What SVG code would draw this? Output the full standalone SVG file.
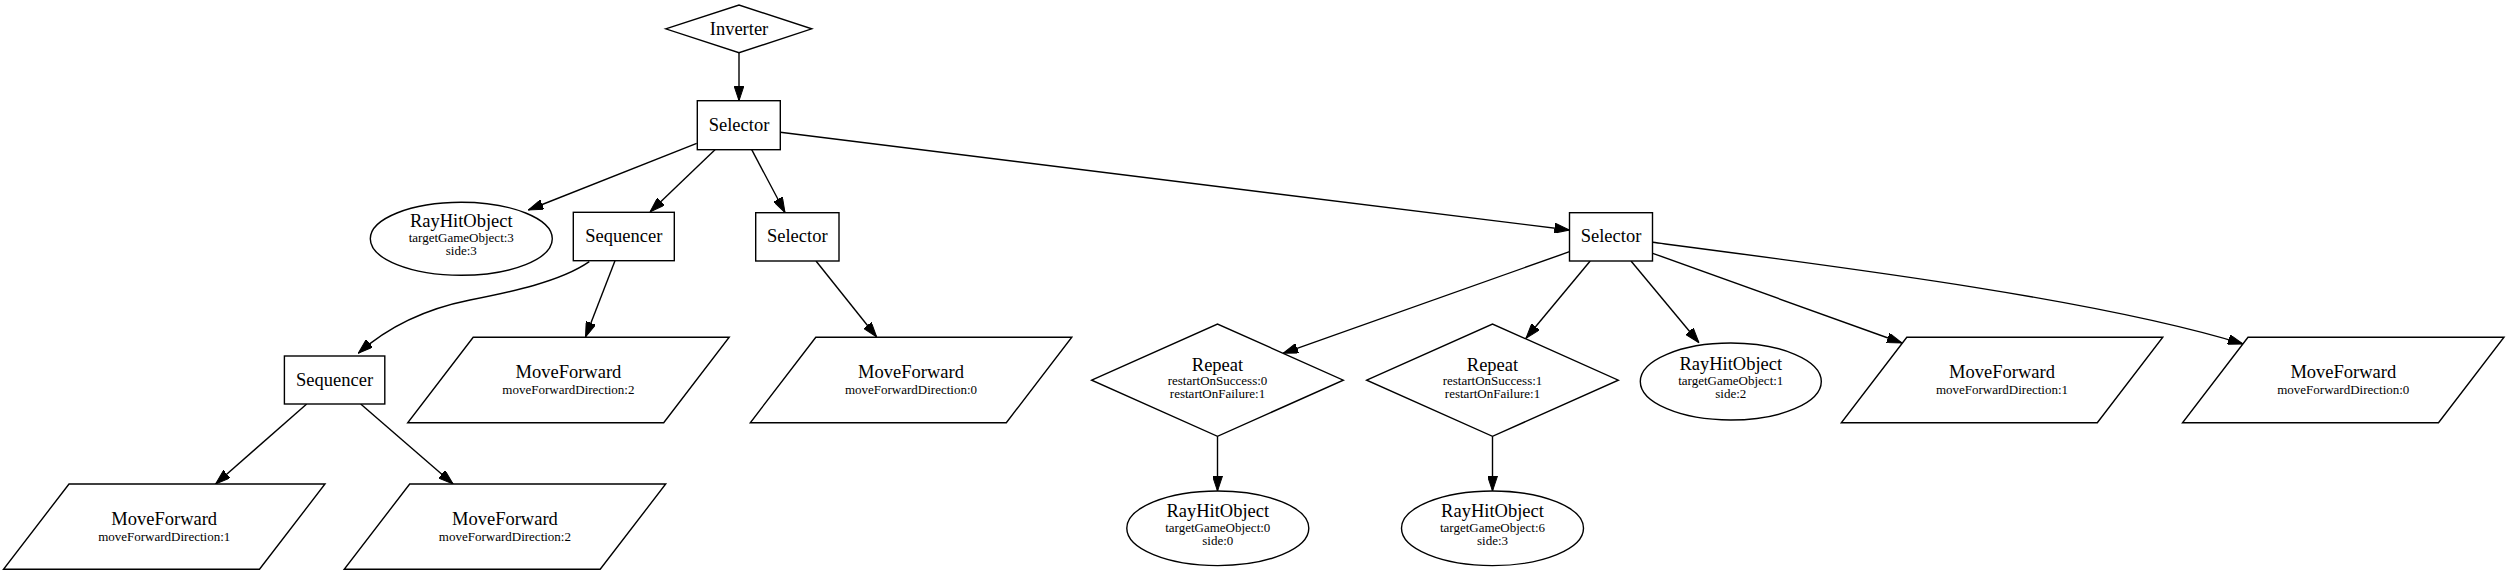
<svg xmlns="http://www.w3.org/2000/svg" width="2509" height="575" viewBox="0 0 2509 575">
<style>
.n{fill:#fff;stroke:#000;stroke-width:1.4}
.e{fill:none;stroke:#000;stroke-width:1.4}
text{font-family:"Liberation Serif","Times New Roman",serif;fill:#000;text-anchor:middle}
.m{font-size:18.5px}
.s{font-size:13px}
</style>
<defs>
<marker id="ah" markerUnits="userSpaceOnUse" markerWidth="15" markerHeight="10" viewBox="0 0 15 10" refX="15" refY="5" orient="auto">
<path d="M0,0 L15,5 L0,10 z" fill="#000" stroke="#000" stroke-width="1"/>
</marker>
</defs>
<rect width="2509" height="575" fill="#fff"/>
<g id="edges" marker-end="url(#ah)">
<path class="e" d="M739,52.7 L739,100.7" marker-end="url(#ah)"/>
<path class="e" d="M696.7,143.3 L528.3,210" marker-end="url(#ah)"/>
<path class="e" d="M715,149.7 L650,212" marker-end="url(#ah)"/>
<path class="e" d="M751.7,149.7 L785,212.5" marker-end="url(#ah)"/>
<path class="e" d="M780.3,132.3 L1569.5,230" marker-end="url(#ah)"/>
<path class="e" d="M589.3,261.7 C560,282 510,292 470,300 C430,308 390,325 358.3,353.3" marker-end="url(#ah)"/>
<path class="e" d="M615,260.7 L585.5,337" marker-end="url(#ah)"/>
<path class="e" d="M306.7,404 L215.6,484" marker-end="url(#ah)"/>
<path class="e" d="M360.7,404 L453.1,484" marker-end="url(#ah)"/>
<path class="e" d="M816,261 L876.7,337" marker-end="url(#ah)"/>
<path class="e" d="M1569.5,251.7 L1283,353.3" marker-end="url(#ah)"/>
<path class="e" d="M1590.2,261 L1526,338.3" marker-end="url(#ah)"/>
<path class="e" d="M1631,261 L1699,342.7" marker-end="url(#ah)"/>
<path class="e" d="M1652.7,253.3 L1902,343" marker-end="url(#ah)"/>
<path class="e" d="M1652.7,242.3 C1850,268 2100,300 2243,344" marker-end="url(#ah)"/>
<path class="e" d="M1217.5,436.3 L1217.5,491" marker-end="url(#ah)"/>
<path class="e" d="M1492.5,436.3 L1492.5,491" marker-end="url(#ah)"/>
</g>
<g id="inverter">
<polygon class="n" points="665.7,28.8 739,5 811.7,28.8 739,52.7"/>
<text class="m" x="739" y="34.5">Inverter</text>
</g>
<g id="selector1">
<rect class="n" x="697.3" y="100.7" width="83" height="49"/>
<text class="m" x="739" y="130.7">Selector</text>
</g>
<g id="rayhit3">
<ellipse class="n" cx="461.3" cy="238.8" rx="91" ry="36.5"/>
<text class="m" x="461.3" y="226.7">RayHitObject</text>
<text class="s" x="461.3" y="241.7">targetGameObject:3</text>
<text class="s" x="461.3" y="255">side:3</text>
</g>
<g id="sequencer1">
<rect class="n" x="573.3" y="212.3" width="101" height="48.4"/>
<text class="m" x="623.8" y="242">Sequencer</text>
</g>
<g id="selector2">
<rect class="n" x="755.7" y="212.7" width="83.3" height="48.3"/>
<text class="m" x="797.3" y="242.3">Selector</text>
</g>
<g id="selector3">
<rect class="n" x="1569.5" y="212.7" width="83" height="48.3"/>
<text class="m" x="1611" y="242.3">Selector</text>
</g>
<g id="sequencer2">
<rect class="n" x="284.4" y="356" width="100.4" height="48"/>
<text class="m" x="334.6" y="385.5">Sequencer</text>
</g>
<g id="mf-seq1-2">
<polygon class="n" points="473.2,337.3 729.2,337.3 663.7,422.7 407.7,422.7"/>
<text class="m" x="568.4" y="378.3">MoveForward</text>
<text class="s" x="568.4" y="394">moveForwardDirection:2</text>
</g>
<g id="mf-sel2-0">
<polygon class="n" points="815.8,337.3 1071.8,337.3 1006.3,422.7 750.3,422.7"/>
<text class="m" x="911" y="378.3">MoveForward</text>
<text class="s" x="911" y="394">moveForwardDirection:0</text>
</g>
<g id="mf-seq2-1">
<polygon class="n" points="69,484 325,484 259.5,569.3 3.5,569.3"/>
<text class="m" x="164.2" y="525">MoveForward</text>
<text class="s" x="164.2" y="540.7">moveForwardDirection:1</text>
</g>
<g id="mf-seq2-2">
<polygon class="n" points="409.7,484 665.7,484 600.2,569.3 344.2,569.3"/>
<text class="m" x="504.9" y="525">MoveForward</text>
<text class="s" x="504.9" y="540.7">moveForwardDirection:2</text>
</g>
<g id="repeat1">
<polygon class="n" points="1091.7,380.2 1217.5,324 1343.3,380.2 1217.5,436.3"/>
<text class="m" x="1217.5" y="370.7">Repeat</text>
<text class="s" x="1217.5" y="384.7">restartOnSuccess:0</text>
<text class="s" x="1217.5" y="398">restartOnFailure:1</text>
</g>
<g id="repeat2">
<polygon class="n" points="1366.7,380.2 1492.5,324 1618.3,380.2 1492.5,436.3"/>
<text class="m" x="1492.5" y="370.7">Repeat</text>
<text class="s" x="1492.5" y="384.7">restartOnSuccess:1</text>
<text class="s" x="1492.5" y="398">restartOnFailure:1</text>
</g>
<g id="rayhit1">
<ellipse class="n" cx="1730.8" cy="381.5" rx="90.5" ry="38.5"/>
<text class="m" x="1730.8" y="369.5">RayHitObject</text>
<text class="s" x="1730.8" y="384.5">targetGameObject:1</text>
<text class="s" x="1730.8" y="398">side:2</text>
</g>
<g id="mf-sel3-1">
<polygon class="n" points="1906.8,337.3 2162.8,337.3 2097.3,422.7 1841.3,422.7"/>
<text class="m" x="2002" y="378.3">MoveForward</text>
<text class="s" x="2002" y="394">moveForwardDirection:1</text>
</g>
<g id="mf-sel3-0">
<polygon class="n" points="2248,337.3 2504,337.3 2438.5,422.7 2182.5,422.7"/>
<text class="m" x="2343.3" y="378.3">MoveForward</text>
<text class="s" x="2343.3" y="394">moveForwardDirection:0</text>
</g>
<g id="rayhit0">
<ellipse class="n" cx="1217.8" cy="528.3" rx="91" ry="37.3"/>
<text class="m" x="1217.8" y="516.7">RayHitObject</text>
<text class="s" x="1217.8" y="531.7">targetGameObject:0</text>
<text class="s" x="1217.8" y="545">side:0</text>
</g>
<g id="rayhit6">
<ellipse class="n" cx="1492.5" cy="528.3" rx="91" ry="37.3"/>
<text class="m" x="1492.5" y="516.7">RayHitObject</text>
<text class="s" x="1492.5" y="531.7">targetGameObject:6</text>
<text class="s" x="1492.5" y="545">side:3</text>
</g>
</svg>
